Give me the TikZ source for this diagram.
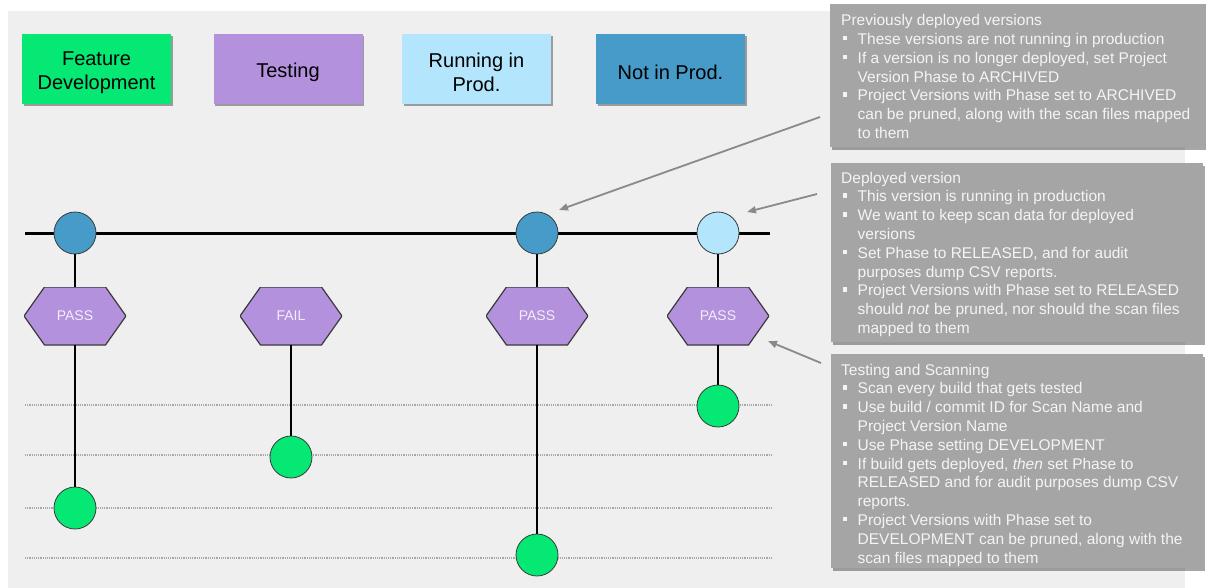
\documentclass[tikz,border=0pt]{standalone}
\usepackage{fontspec}
\setmainfont{Liberation Sans}
\usetikzlibrary{shadows,arrows.meta}
\definecolor{bgc}{HTML}{EFEFEF}
\definecolor{featgreen}{HTML}{05E873}
\definecolor{testpurple}{HTML}{B391DC}
\definecolor{runblue}{HTML}{B3E5FC}
\definecolor{notblue}{HTML}{469BC8}
\definecolor{calloutgray}{HTML}{A5A5A5}
\definecolor{callouttext}{HTML}{F4F4F4}
\definecolor{arrgray}{HTML}{8A8A8A}
\definecolor{dotgray}{HTML}{A8A8A8}
\definecolor{hextext}{HTML}{F3EEFA}
\definecolor{outl}{HTML}{3A3A3A}
\newcommand{\bul}{\makebox[16.5pt][l]{\hspace{1.5pt}\rule[4.2pt]{4.3pt}{4.3pt}}}
\newcommand{\cnt}{\hspace*{16.5pt}}
\newcommand{\tallstrut}{\rule{0pt}{20.5pt}}
\tikzset{
  legendbox/.style={minimum width=149pt, minimum height=70pt, inner sep=0pt, align=center,
    font=\fontsize{20}{24}\selectfont,
    drop shadow={shadow xshift=1.5pt, shadow yshift=-2pt, opacity=0.35, fill=black}},
  verscirc/.style={circle, minimum size=42pt, inner sep=0pt, draw=outl, line width=0.8pt},
  buildcirc/.style={circle, minimum size=42pt, inner sep=0pt, draw=outl, line width=0.8pt, fill=featgreen},
  hexnode/.style={rectangle, minimum width=102pt, minimum height=58pt, inner sep=0pt,
    text=hextext, font=\fontsize{14}{16}\selectfont,
    path picture={
      \path[fill=testpurple, draw=outl, line width=1.2pt]
        (path picture bounding box.west)
        -- ([xshift=20.5pt]path picture bounding box.north west)
        -- ([xshift=-20.5pt]path picture bounding box.north east)
        -- (path picture bounding box.east)
        -- ([xshift=-20.5pt]path picture bounding box.south east)
        -- ([xshift=20.5pt]path picture bounding box.south west)
        -- cycle;}},
  callbox/.style={rectangle, fill=calloutgray, anchor=north west, inner sep=0pt,
    drop shadow={shadow xshift=1.5pt, shadow yshift=-2.5pt, opacity=0.35, fill=black}},
  calltext/.style={anchor=north west, inner sep=0pt, align=left, text=callouttext,
    font=\fontsize{15.5}{18.8}\selectfont},
  mainline/.style={draw=black, line width=3pt},
  vline/.style={draw=black, line width=2.6pt},
  dotline/.style={draw=dotgray, line width=1.3pt, dash pattern=on 1.2pt off 1pt},
  pointer/.style={draw=arrgray, line width=1.8pt, -{Triangle[length=9pt,width=7pt]}}
}
\begin{document}
\begin{tikzpicture}[x=1pt,y=-1pt]
\useasboundingbox (0,0) rectangle (1206,588);
\fill[white] (0,0) rectangle (1206,588);
\fill[bgc] (8,11) rectangle (1185,588);

% legend
\node[legendbox, fill=featgreen] (lg1) at (96.5,69) {\tallstrut Feature\\Development};
\node[legendbox, fill=testpurple] (lg2) at (288,69) {\tallstrut Testing};
\node[legendbox, fill=runblue] (lg3) at (476.5,69) {\tallstrut Running in\\Prod.};
\node[legendbox, fill=notblue] (lg4) at (670.5,69) {\tallstrut Not in Prod.};

% dotted level lines
\foreach \yy in {405,455,508,558} {\draw[dotline] (25,\yy) -- (771,\yy);}

% main timeline
\coordinate (tl0) at (25,233);
\coordinate (tl1) at (770,233);
\draw[mainline] (tl0) -- (tl1);

% nodes
\node[hexnode] (h1) at (75,316) {PASS};
\node[hexnode] (h2) at (291,316) {FAIL};
\node[hexnode] (h3) at (537,316) {PASS};
\node[hexnode] (h4) at (718,316) {PASS};

\node[buildcirc] (g1) at (75,508) {};
\node[buildcirc] (g2) at (291,457) {};
\node[buildcirc] (g3) at (537,555) {};
\node[buildcirc] (g4) at (718,406) {};

\node[verscirc, fill=notblue] (v1) at (75,233) {};
\node[verscirc, fill=notblue] (v2) at (537,233) {};
\node[verscirc, fill=runblue] (v3) at (718,233) {};

\draw[vline] (v1) -- (h1);
\draw[vline] (h1) -- (g1);
\draw[vline] (h2) -- (g2);
\draw[vline] (v2) -- (h3);
\draw[vline] (h3) -- (g3);
\draw[vline] (v3) -- (h4);
\draw[vline] (h4) -- (g4);

% callouts
\node[callbox, minimum width=376pt, minimum height=143pt] (c1) at (830,4) {};
\node[callbox, minimum width=372pt, minimum height=179pt] (c2) at (831,163) {};
\node[callbox, minimum width=372pt, minimum height=214pt] (c3) at (831,354) {};

\node[calltext] (t1) at (841,12.3) {\strut Previously deployed versions\\
\bul These versions are not running in production\\
\bul If a version is no longer deployed, set Project\\
\cnt Version Phase to ARCHIVED\\
\bul Project Versions with Phase set to ARCHIVED\\
\cnt can be pruned, along with the scan files mapped\\
\cnt to them};

\node[calltext] (t2) at (841,169.8) {\strut Deployed version\\
\bul This version is running in production\\
\bul We want to keep scan data for deployed\\
\cnt versions\\
\bul Set Phase to RELEASED, and for audit\\
\cnt purposes dump CSV reports.\\
\bul Project Versions with Phase set to RELEASED\\
\cnt should \textit{not} be pruned, nor should the scan files\\
\cnt mapped to them};

\node[calltext] (t3) at (841,361.8) {\strut Testing and Scanning\\
\bul Scan every build that gets tested\\
\bul Use build / commit ID for Scan Name and\\
\cnt Project Version Name\\
\bul Use Phase setting DEVELOPMENT\\
\bul If build gets deployed, \textit{then} set Phase to\\
\cnt RELEASED and for audit purposes dump CSV\\
\cnt reports.\\
\bul Project Versions with Phase set to\\
\cnt DEVELOPMENT can be pruned, along with the\\
\cnt scan files mapped to them};

% pointers
\coordinate (p1s) at (820,117);
\coordinate (p1e) at (559,210);
\coordinate (p2s) at (817,194);
\coordinate (p2e) at (747,212);
\coordinate (p3s) at (821,363);
\coordinate (p3e) at (768,341);
\draw[pointer] (p1s) -- (p1e);
\draw[pointer] (p2s) -- (p2e);
\draw[pointer] (p3s) -- (p3e);
\end{tikzpicture}
\end{document}
